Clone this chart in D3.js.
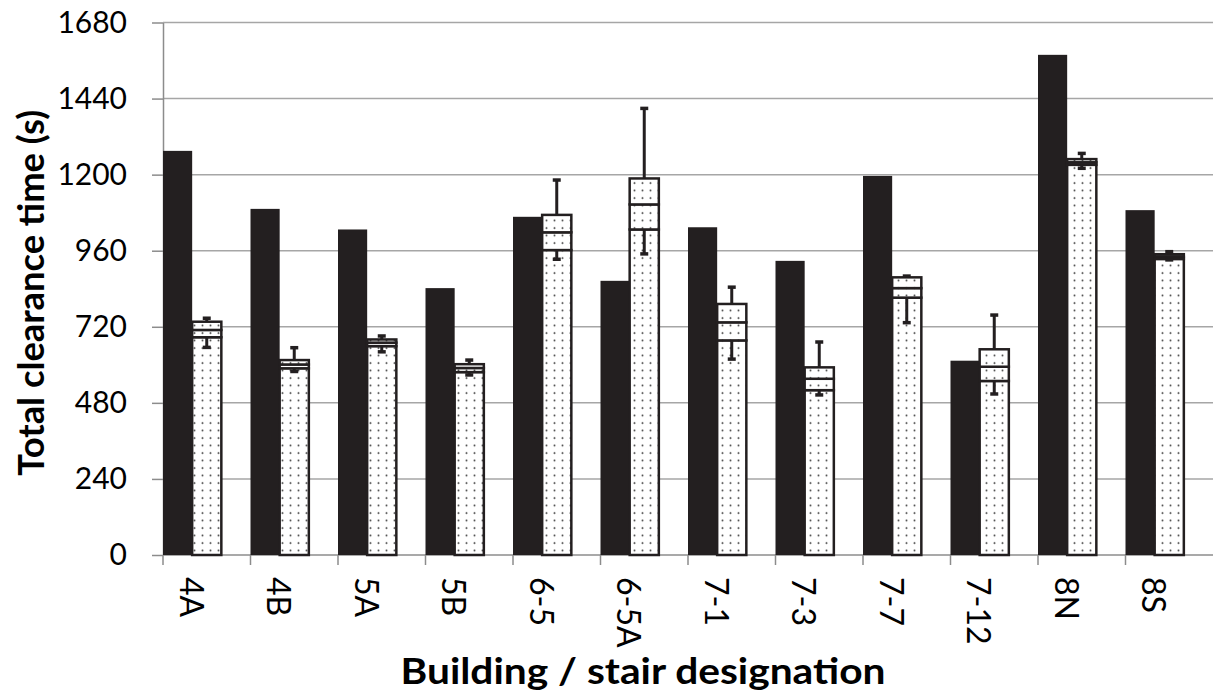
<!DOCTYPE html>
<html>
<head>
<meta charset="utf-8">
<script src="https://cdn.jsdelivr.net/npm/d3@7"></script>
<style>
  body { margin: 0; background: #fff; }
  text { font-family: Lato, "Open Sans", sans-serif; fill: #000; }
</style>
</head>
<body>
<div id="chart"></div>
<script>
// building / stair designations
const categories = ["4A", "4B", "5A", "5B", "6-5", "6-5A", "7-1", "7-3", "7-7", "7-12", "8N", "8S"]
// solid bars
const observed = [1275, 1092, 1027, 842, 1067, 865, 1034, 928, 1196, 613, 1578, 1088]
// box + whisker series (dotted bars)
const maxVals = [747, 654, 691, 615, 1183, 1409, 845, 672, 880, 757, 1267, 957]
const q3Vals = [736, 615, 680, 602, 1073, 1188, 792, 592, 876, 649, 1249, 949]
const medVals = [710, 601, 670, 590, 1018, 1106, 734, 556, 842, 594, 1239, 941]
const q1Vals = [687, 589, 659, 577, 962, 1027, 677, 520, 812, 549, 1231, 934]
const minVals = [655, 579, 641, 568, 933, 950, 618, 505, 733, 508, 1220, 931]
const yTicks = [0, 240, 480, 720, 960, 1200, 1440, 1680]

const width = 1221, height = 698
const margin = {top: 22.5, right: 8, bottom: 143, left: 163}
const ink = "#231f20"

const rows = categories.map((c, i) => ({
  cat: c, obs: observed[i], max: maxVals[i], q3: q3Vals[i],
  med: medVals[i], q1: q1Vals[i], min: minVals[i]
}))

const svg = d3.select("#chart").append("svg")
  .attr("width", width)
  .attr("height", height)

// dotted fill
const pat = svg.append("defs").append("pattern")
  .attr("id", "dots")
  .attr("patternUnits", "userSpaceOnUse")
  .attr("width", 8)
  .attr("height", 7.5)
pat.append("rect").attr("width", 8).attr("height", 7.5).attr("fill", "#fff")
pat.append("circle").attr("cx", 2.5).attr("cy", 3).attr("r", 1).attr("fill", "#444")

const x = d3.scaleBand()
  .domain(categories)
  .range([margin.left, width - margin.right])
  .paddingInner(0).paddingOuter(0)

const slot = d3.scaleBand()
  .domain(["obs", "sim", "gap"])
  .range([0, x.bandwidth()])

const y = d3.scaleLinear()
  .domain([0, 1680])
  .range([height - margin.bottom, margin.top])

// gridlines
svg.append("g")
  .selectAll("line")
  .data(yTicks.filter(d => d > 0))
  .join("line")
    .attr("x1", margin.left)
    .attr("x2", width - margin.right)
    .attr("y1", d => y(d))
    .attr("y2", d => y(d))
    .attr("stroke", "#a6a6a6")
    .attr("stroke-width", 1.5)

// y axis
const yAxis = svg.append("g")
  .attr("transform", `translate(${margin.left},0)`)
  .call(d3.axisLeft(y).tickValues(yTicks).tickFormat(d3.format("d"))
    .tickSize(11).tickPadding(25).tickSizeOuter(0))
yAxis.select(".domain").attr("stroke", "#8c8c8c").attr("stroke-width", 1.5)
yAxis.selectAll(".tick line").attr("stroke", "#8c8c8c").attr("stroke-width", 1.5)
yAxis.selectAll(".tick text")
  .attr("font-size", 30)
  .attr("font-family", "Lato, sans-serif")
  .attr("fill", "#000")

// x axis line + ticks at category boundaries
const xAxis = svg.append("g")
svg.append("line")
  .attr("x1", margin.left).attr("x2", width - margin.right)
  .attr("y1", y(0)).attr("y2", y(0))
  .attr("stroke", "#8c8c8c").attr("stroke-width", 1.5)
xAxis.selectAll("line")
  .data(categories)
  .join("line")
    .attr("x1", d => x(d)).attr("x2", d => x(d))
    .attr("y1", y(0)).attr("y2", y(0) + 10)
    .attr("stroke", "#8c8c8c").attr("stroke-width", 1.5)
xAxis.selectAll("text")
  .data(categories)
  .join("text")
    .attr("transform", d => `translate(${x(d) + slot("sim")},${y(0) + 22}) rotate(90)`)
    .attr("dominant-baseline", "central")
    .attr("font-size", 32)
    .text(d => d)

// solid bars
svg.append("g")
  .selectAll("rect")
  .data(rows)
  .join("rect")
    .attr("x", d => x(d.cat) + slot("obs"))
    .attr("width", slot.bandwidth())
    .attr("y", d => y(d.obs))
    .attr("height", d => y(0) - y(d.obs))
    .attr("fill", ink)

// dotted stacked bars: base to q1, q1 to median, median to q3
const sim = svg.append("g")
const segs = rows.flatMap(d => [[d, 0, d.q1], [d, d.q1, d.med], [d, d.med, d.q3]])
sim.selectAll("rect")
  .data(segs)
  .join("rect")
    .attr("x", s => x(s[0].cat) + slot("sim"))
    .attr("width", slot.bandwidth())
    .attr("y", s => y(s[2]))
    .attr("height", s => y(s[1]) - y(s[2]))
    .attr("fill", "url(#dots)")
    .attr("stroke", ink)
    .attr("stroke-width", 2.5)

// whiskers
const whisk = svg.append("g").attr("stroke", ink)
const wx = d => x(d.cat) + slot("sim") + slot.bandwidth() / 2
whisk.selectAll(".up")
  .data(rows)
  .join("line")
    .attr("class", "up")
    .attr("x1", wx).attr("x2", wx)
    .attr("y1", d => y(d.q3)).attr("y2", d => y(d.max))
    .attr("stroke-width", 3)
whisk.selectAll(".down")
  .data(rows)
  .join("line")
    .attr("class", "down")
    .attr("x1", wx).attr("x2", wx)
    .attr("y1", d => y(d.q1)).attr("y2", d => y(d.min))
    .attr("stroke-width", 3)
whisk.selectAll(".cap")
  .data(rows.flatMap(d => [[d, d.max], [d, d.min]]))
  .join("line")
    .attr("class", "cap")
    .attr("x1", s => wx(s[0]) - 4).attr("x2", s => wx(s[0]) + 4)
    .attr("y1", s => y(s[1])).attr("y2", s => y(s[1]))
    .attr("stroke-width", 3.5)

// axis titles
svg.append("text")
  .attr("transform", `translate(30,${(y(0) + y(1680)) / 2 + 4}) rotate(-90)`)
  .attr("text-anchor", "middle")
  .attr("dominant-baseline", "central")
  .attr("font-size", 36)
  .attr("font-weight", "bold")
  .attr("textLength", 366)
  .attr("lengthAdjust", "spacingAndGlyphs")
  .text("Total clearance time (s)")

svg.append("text")
  .attr("x", 643)
  .attr("y", 684)
  .attr("text-anchor", "middle")
  .attr("font-size", 37)
  .attr("font-weight", "bold")
  .attr("textLength", 485)
  .attr("lengthAdjust", "spacingAndGlyphs")
  .text("Building / stair designation")
</script>
</body>
</html>
